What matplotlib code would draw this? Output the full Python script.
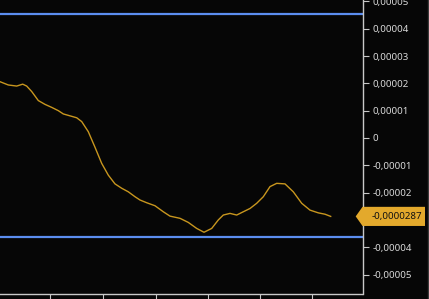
import matplotlib.pyplot as plt
from matplotlib.patches import Polygon
from matplotlib.transforms import blended_transform_factory

# x position along the chart (pixel-ish time units), y value in units of 1e-5
xs = [0, 8.3, 16.7, 22.7, 26.7, 31.7, 38.3, 45, 51.7, 58.3, 63.3, 70, 76.7, 81.7,
      88.3, 95, 101.7, 108.3, 115, 121.7, 128.3, 135, 140, 146.7, 155, 163.3, 170,
      180, 188.3, 196.7, 204, 211.7, 218.3, 223.3, 230, 236.7, 243.3, 250, 256.7,
      263.3, 270, 276.7, 285, 293.3, 301.7, 310, 318.3, 325, 330.7]
ys = [2.06, 1.94, 1.90, 1.97, 1.90, 1.70, 1.37, 1.23, 1.12, 1.00, 0.88, 0.81, 0.74, 0.60,
      0.23, -0.34, -0.93, -1.36, -1.68, -1.84, -1.97, -2.15, -2.27, -2.37, -2.48, -2.70, -2.86,
      -2.94, -3.09, -3.31, -3.45, -3.31, -3.00, -2.82, -2.76, -2.82, -2.70, -2.58, -2.39,
      -2.15, -1.78, -1.66, -1.68, -1.97, -2.39, -2.64, -2.74, -2.79, -2.87]
upper_band = 4.54
lower_band = -3.63
last_value = -0.0000287
yticks = [-5, -4, -3, -2, -1, 0, 1, 2, 3, 4, 5]
xticks = [50, 103.5, 155.7, 207.7, 260.3, 312.3]

bg = '#060606'
axcol = '#c8c8c8'
plt.rcParams['font.family'] = ['Noto Sans', 'DejaVu Sans']

fig = plt.figure(figsize=(4.29, 2.99), dpi=100, facecolor=bg)
ax = fig.add_axes([0, 5 / 299, 362.5 / 429, 294 / 299])
ax.set_facecolor(bg)

y_vals = [v * 1e-5 for v in ys]
ax.plot(xs, y_vals, color='#c8961e', lw=1.0)
ax.axhline(upper_band * 1e-5, color='#5b8def', lw=1.6)
ax.axhline(lower_band * 1e-5, color='#5b8def', lw=1.6)

ax.set_xlim(0, 362.5)
ax.set_ylim(-5.71e-5, 5.05e-5)


def fmt(t):
    if t == 0:
        return '0'
    if t == -3:
        return ''  # hidden behind the last-value marker
    return f'{t * 1e-5:.5f}'.replace('.', ',')


ax.yaxis.tick_right()
ax.set_yticks([t * 1e-5 for t in yticks])
ax.set_yticklabels([fmt(t) for t in yticks])
ax.set_xticks(xticks)
ax.set_xticklabels([])
ax.tick_params(axis='y', colors=axcol, labelcolor='#d8d8d8', labelsize=7, length=4, width=0.8, pad=3)
ax.tick_params(axis='x', colors=axcol, length=5, width=0.8, direction='out')
for s in ['top', 'left']:
    ax.spines[s].set_visible(False)
for s in ['right', 'bottom']:
    ax.spines[s].set_color(axcol)
    ax.spines[s].set_linewidth(1)

# last value marker on the axis
tr = blended_transform_factory(fig.transFigure, ax.transData)
h = 0.35e-5
x0, x1, x2 = 355.7 / 429, 362.5 / 429, 425 / 429
poly = Polygon([[x0, last_value], [x1, last_value + h], [x2, last_value + h],
                [x2, last_value - h], [x1, last_value - h]], closed=True,
               transform=tr, facecolor='#e3a92c', edgecolor='none', clip_on=False, zorder=10)
fig.add_artist(poly)
fig.text(371.5 / 429, last_value, f'{last_value:.7f}'.replace('.', ','), transform=tr,
         color='#111111', fontsize=7, va='center', ha='left', zorder=11)

# right border line
fig.add_artist(plt.Line2D([427.5 / 429, 427.5 / 429], [0, 1], transform=fig.transFigure,
                          color='#3a3a3a', lw=1))

fig.savefig('out.png', dpi=100, facecolor=bg)
